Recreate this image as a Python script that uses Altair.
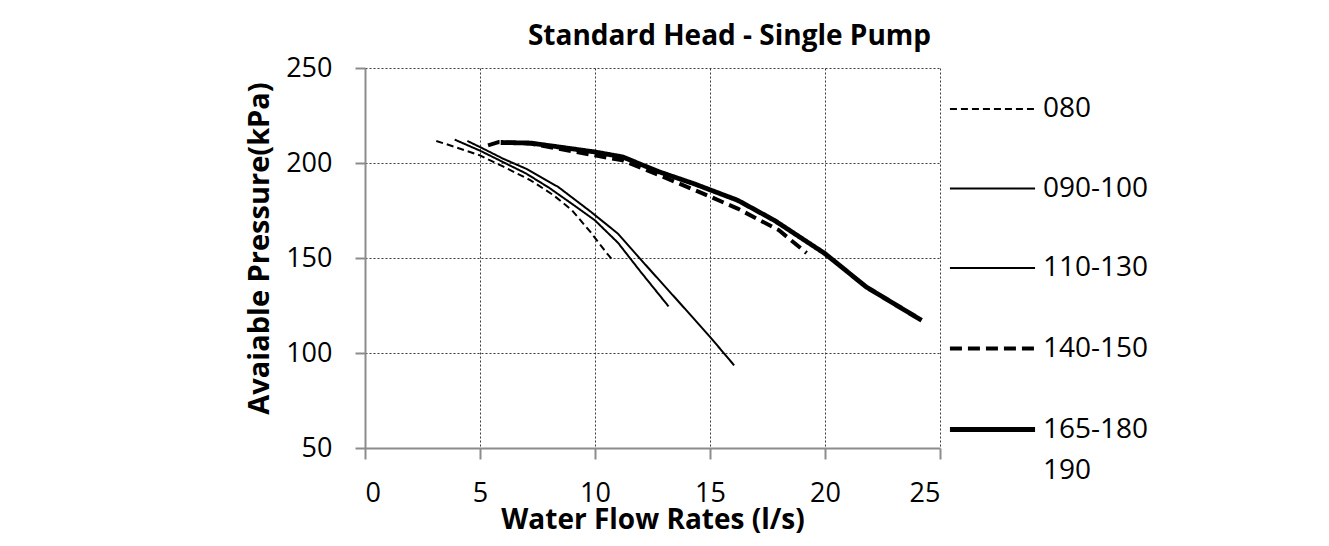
import altair as alt
import pandas as pd

# ---- data ----
series_names = ["080", "090-100", "110-130", "140-150", "165-180"]
extra_legend_label = "190"

flow_080 = [3.1, 4.0, 5.0, 6.0, 7.2, 8.2, 9.0, 9.8, 10.3, 10.75]
pres_080 = [211.6, 208.1, 204.0, 198.2, 190.9, 183.0, 175.1, 163.7, 155.8, 149.0]

flow_090 = [3.9, 5.0, 6.0, 7.0, 8.0, 9.0, 10.0, 11.0, 12.0, 13.2]
pres_090 = [212.3, 206.5, 200.5, 194.5, 187.0, 178.5, 169.8, 158.0, 142.5, 124.5]

flow_110 = [4.45, 5.0, 6.0, 7.0, 8.4, 9.8, 11.0, 12.3, 13.6, 15.0, 16.05]
pres_110 = [211.6, 208.4, 202.3, 197.0, 187.4, 174.5, 162.8, 145.0, 127.5, 108.5, 93.5]

flow_140 = [5.35, 5.8, 7.2, 10.0, 11.2, 12.8, 14.7, 16.2, 18.0, 19.2]
pres_140 = [209.3, 211.0, 210.2, 204.0, 201.4, 193.5, 183.9, 176.0, 164.6, 152.6]

flow_165 = [5.9, 7.2, 10.0, 11.2, 12.8, 14.3, 16.2, 17.8, 20.0, 21.8, 24.2]
pres_165 = [210.8, 210.5, 205.8, 203.2, 195.3, 189.1, 180.4, 169.8, 152.3, 134.7, 117.2]

x_ticks = [0, 5, 10, 15, 20, 25]
y_ticks = [50, 100, 150, 200, 250]

# ---- styles per series ----
dash_range = [[7, 4], [1, 0], [1, 0], [12, 6], [1, 0]]
width_range = [2, 2, 2, 4, 4.8]

rows = []
for name, xs, ys in [
    ("080", flow_080, pres_080),
    ("090-100", flow_090, pres_090),
    ("110-130", flow_110, pres_110),
    ("140-150", flow_140, pres_140),
    ("165-180", flow_165, pres_165),
]:
    for xv, yv in zip(xs, ys):
        rows.append({"series": name, "flow": xv, "pressure": yv})
df = pd.DataFrame(rows)

FONT = "Open Sans"

legend = alt.Legend(
    title=None,
    orient="none",
    legendX=593,
    legendY=8,
    padding=0,
    symbolType="M-1.33,0H1.33",
    symbolSize=4096,
    symbolStrokeColor="black",
    symbolFillColor="transparent",
    labelFont=FONT,
    labelFontSize=28,
    labelColor="black",
    labelOffset=16,
    labelBaseline="middle",
    rowPadding=32.5,
    labelLimit=400,
    labelExpr="datum.label == '165-180' ? ['165-180', '" + extra_legend_label + "'] : datum.label",
)

grid_kw = dict(grid=True, gridColor="#3a3a3a", gridDash=[2, 2], gridWidth=1)

chart = (
    alt.Chart(df)
    .mark_line(color="black", strokeCap="butt", strokeJoin="round")
    .encode(
        x=alt.X(
            "flow:Q",
            scale=alt.Scale(domain=[0, 25], nice=False, zero=False),
            axis=alt.Axis(
                values=x_ticks,
                title="Water Flow Rates (l/s)",
                titleFont=FONT,
                titleFontSize=28,
                titleFontWeight="bold",
                titleColor="black",
                titlePadding=0,
                labelFont=FONT,
                labelFontSize=27,
                labelColor="black",
                labelPadding=21,
                tickSize=11,
                tickColor="#8c8c8c",
                tickWidth=2,
                domainColor="#8c8c8c",
                domainWidth=2,
                **grid_kw,
            ),
        ),
        y=alt.Y(
            "pressure:Q",
            scale=alt.Scale(domain=[50, 250], nice=False, zero=False),
            axis=alt.Axis(
                values=y_ticks,
                title="Avaiable Pressure(kPa)",
                titleFont=FONT,
                titleFontSize=29,
                titleFontWeight="bold",
                titleColor="black",
                titlePadding=11,
                titleY=180,
                labelFont=FONT,
                labelFontSize=27,
                labelColor="black",
                labelPadding=23,
                tickSize=10,
                tickColor="#8c8c8c",
                tickWidth=2,
                domainColor="#8c8c8c",
                domainWidth=2,
                **grid_kw,
            ),
        ),
        strokeDash=alt.StrokeDash(
            "series:O",
            scale=alt.Scale(domain=series_names, range=dash_range),
            legend=legend,
        ),
        strokeWidth=alt.StrokeWidth(
            "series:O",
            scale=alt.Scale(type="ordinal", domain=series_names, range=width_range),
            legend=legend,
        ),
        detail="series:N",
    )
    .properties(
        width=575,
        height=380,
        autosize=alt.AutoSizeParams(type="none"),
        padding={"left": 357, "top": 60, "right": 381, "bottom": 90},
        title=alt.TitleParams(
            "Standard Head - Single Pump",
            font=FONT,
            fontSize=28,
            fontWeight="bold",
            color="black",
            anchor="middle",
            frame="group",
            baseline="bottom",
            offset=20,
            dx=77,
            dy=45,
        ),
    )
    .configure(style={"guide-label": {"lineHeight": 41}})
    .configure_view(strokeOpacity=0)
)

chart.save("out.html", embed_options={"renderer": "svg", "actions": False})
